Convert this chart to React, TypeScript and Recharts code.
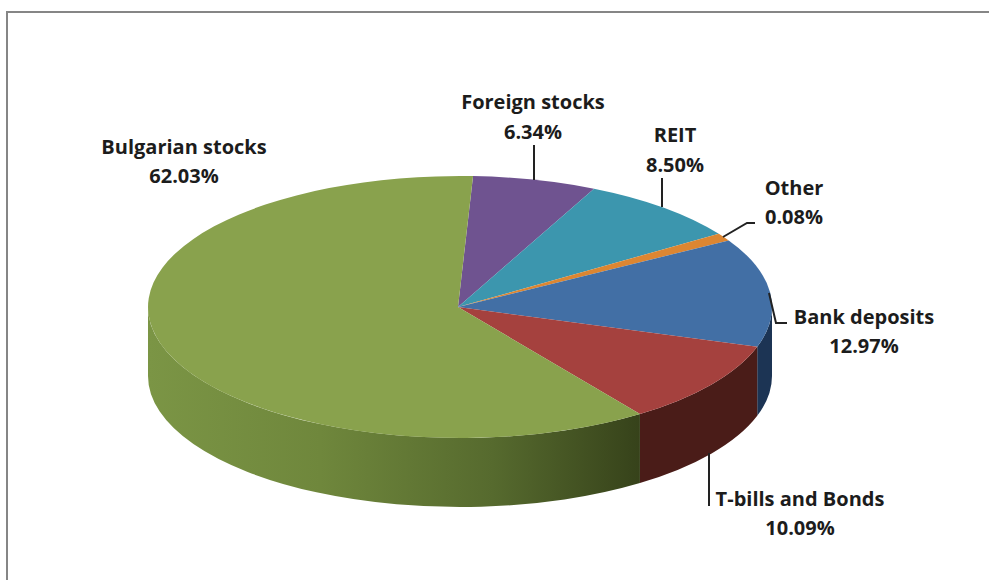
import React from 'react';
import { PieChart, Pie } from 'recharts';

// Slices clockwise from the top, sized as drawn in the picture
const sliceNames = ['Foreign stocks', 'REIT', 'Other', 'Bank deposits', 'T-bills and Bonds', 'Bulgarian stocks'];
const sliceShares = [6.4, 8.5, 0.95, 13.4, 10.3, 60.45];
const labelValues = ['6.34%', '8.50%', '0.08%', '12.97%', '10.09%', '62.03%'];
const topColors = ['#6f5390', '#3c96ae', '#dc8632', '#426fa5', '#a5413e', '#89a24d'];
const wallColors = ['#4a3560', '#25626f', '#8f561f', '#1c3454', '#4a1c18', 'url(#greenWall)'];

// Label centre x, first and second baselines
const labelX = [533, 675, 794, 864, 800, 184];
const labelY1 = [109, 142, 195, 324, 506, 154];
const labelY2 = [139, 172, 224, 353, 535, 183];
const leaderPaths = [
  'M534 145 L534 180',
  'M662 178 L662 207',
  'M723 237 L747 223 L755 223',
  'M769 293 L776 323 L787 323',
  'M709 453 L709 506',
  '',
];

const CX = 460;
const CY = 307;
const RX = 312;
const RY = 131;
const DEPTH = 69;
const APEX_X = 458;

const chartData = sliceNames.map((name, i) => ({
  name,
  value: sliceShares[i],
  fill: topColors[i],
  wall: wallColors[i],
}));

const pt = (deg: number, dy = 0) => {
  const t = (deg * Math.PI) / 180;
  return `${(CX + RX * Math.cos(t)).toFixed(2)} ${(CY - RY * Math.sin(t) + dy).toFixed(2)}`;
};

// Recharts hands us the angles, we squash the circle to an ellipse and add the side wall
const Slice3D = (props: any) => {
  const hi = Math.max(props.startAngle, props.endAngle);
  const lo = Math.min(props.startAngle, props.endAngle);
  const large = hi - lo > 180 ? 1 : 0;
  const wallHi = Math.min(hi, 0);
  const wallLo = Math.max(lo, -180);
  const wall = props.payload?.wall ?? props.wall;
  return (
    <g>
      {wallHi > wallLo && (
        <path
          d={`M${pt(wallHi)} A${RX} ${RY} 0 0 1 ${pt(wallLo)} L${pt(wallLo, DEPTH)} A${RX} ${RY} 0 0 0 ${pt(wallHi, DEPTH)} Z`}
          fill={wall}
        />
      )}
      <path d={`M${APEX_X} ${CY} L${pt(hi)} A${RX} ${RY} 0 ${large} 1 ${pt(lo)} Z`} fill={props.fill} />
    </g>
  );
};

const SliceLabel = ({ index }: any) => (
  <g>
    {leaderPaths[index] && <path d={leaderPaths[index]} fill="none" stroke="#222" strokeWidth={2} />}
    <text x={labelX[index]} y={labelY1[index]} textAnchor="middle" fill="#1c1c1c" fontSize={20} fontWeight={700} fontFamily="'Open Sans', sans-serif">
      {sliceNames[index]}
    </text>
    <text x={labelX[index]} y={labelY2[index]} textAnchor="middle" fill="#1c1c1c" fontSize={20} fontWeight={700} fontFamily="'Open Sans', sans-serif">
      {labelValues[index]}
    </text>
  </g>
);

const App: React.FC = () => (
  <div style={{ position: 'absolute', left: 0, top: 0, width: 989, height: 580, background: '#fff', overflow: 'hidden' }}>
    <div style={{ position: 'absolute', left: 6, top: 11, width: 983, height: 2, background: '#868686' }} />
    <div style={{ position: 'absolute', left: 6, top: 11, width: 2, height: 569, background: '#868686' }} />
    <div style={{ position: 'absolute', left: 0, top: 0 }}>
      <PieChart width={989} height={580} margin={{ top: 0, right: 0, bottom: 0, left: 0 }}>
        <defs>
          <linearGradient id="greenWall" gradientUnits="userSpaceOnUse" x1="148" y1="0" x2="641" y2="0">
            <stop offset="0" stopColor="#7b9545" />
            <stop offset="0.35" stopColor="#6f873c" />
            <stop offset="0.7" stopColor="#566a2e" />
            <stop offset="1" stopColor="#36421a" />
          </linearGradient>
        </defs>
        <Pie
          data={chartData}
          dataKey="value"
          nameKey="name"
          cx={CX}
          cy={CY}
          innerRadius={0}
          outerRadius={RX}
          startAngle={87.6}
          endAngle={-272.4}
          stroke="none"
          shape={Slice3D}
          label={SliceLabel}
          labelLine={false}
          isAnimationActive={false}
        />
      </PieChart>
    </div>
  </div>
);

export default App;
